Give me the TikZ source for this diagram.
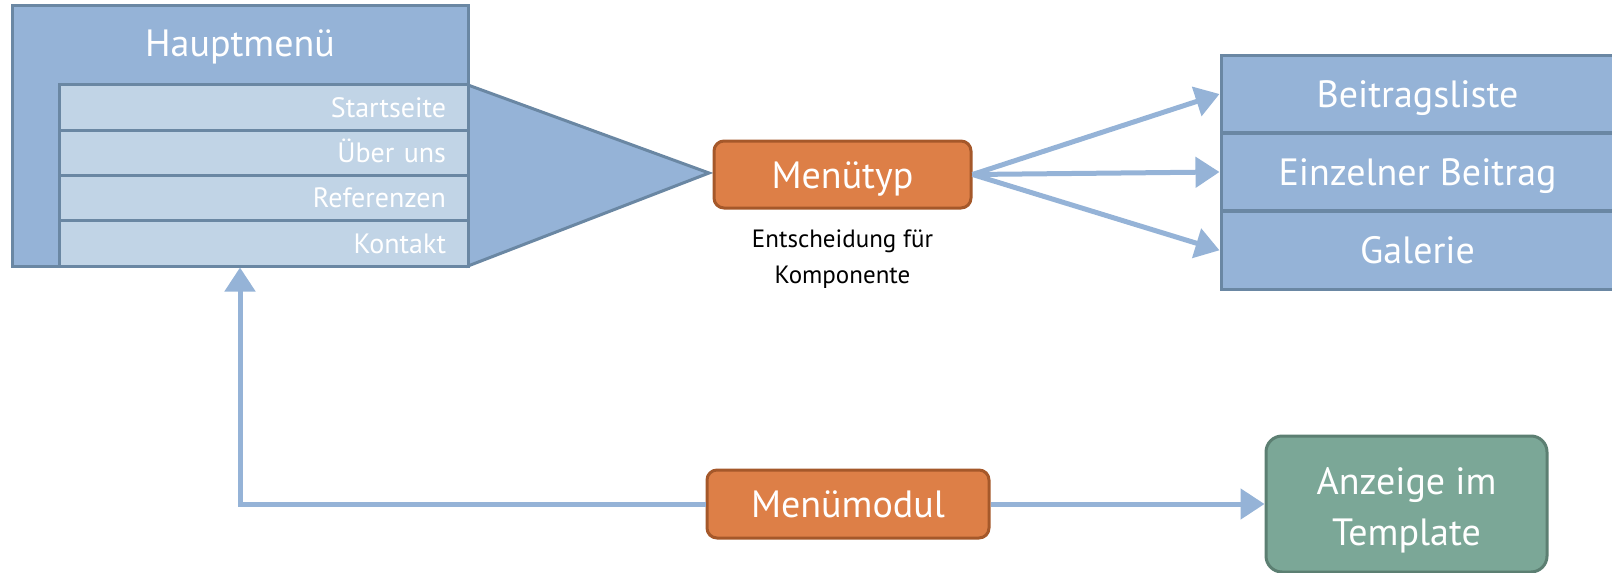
\documentclass[tikz,border=0pt]{standalone}
\usepackage{fontspec}
\setmainfont{PT Sans}
\usetikzlibrary{arrows.meta}
\definecolor{bfill}{HTML}{95B3D7}
\definecolor{bdraw}{HTML}{6A87A3}
\definecolor{lfill}{HTML}{C1D4E6}
\definecolor{ofill}{HTML}{DD7F47}
\definecolor{odraw}{HTML}{A5582A}
\definecolor{gfill}{HTML}{7BA797}
\definecolor{gdraw}{HTML}{5C7F72}
\definecolor{acol}{HTML}{95B3D7}
\tikzset{
  big/.style={font=\fontsize{38}{46}\selectfont, text height=27pt, text depth=0pt},
  small/.style={font=\fontsize{28}{32}\selectfont, text height=19.6pt, text depth=0pt},
  bluebox/.style={draw=bdraw, fill=bfill, line width=3pt, inner sep=0pt},
  rowbox/.style={draw=bdraw, fill=lfill, line width=3pt, inner xsep=22pt, inner ysep=0pt,
    text width=365pt, align=right, minimum height=45.25pt, text=white, small},
  rightbox/.style={draw=bdraw, fill=bfill, line width=3pt, minimum width=393pt, minimum height=77.5pt,
    inner sep=0pt, text=white, big},
  orangebox/.style={draw=odraw, fill=ofill, line width=3pt, rounded corners=10pt, inner sep=0pt, text=white, big},
  greenbox/.style={draw=gdraw, fill=gfill, line width=3pt, rounded corners=16pt, inner sep=0pt, text=white, align=center},
  conn/.style={draw=acol, line width=5pt, -{Triangle[length=24pt,width=30pt]}},
}
\begin{document}
\begin{tikzpicture}[x=1pt,y=-1pt]
\useasboundingbox (0,0) rectangle (1612,573);
% Hauptmenü container
\node[bluebox, minimum width=456pt, minimum height=261pt] (haupt) at (240,135.5) {};
\node[text=white, big] (hauptlabel) at (240,42.5) {Hauptmenü};
\draw[draw=bdraw, fill=bfill, line width=3pt, line join=miter] (468,85) -- (709,173) -- (468,266) -- cycle;
\node[rowbox, minimum width=409pt] (r1) at (263.5,107.6) {Startseite};
\node[rowbox, minimum width=409pt] (r2) at (263.5,152.9) {Über uns};
\node[rowbox, minimum width=409pt] (r3) at (263.5,198.1) {Referenzen};
\node[rowbox, minimum width=409pt] (r4) at (263.5,243.4) {Kontakt};
% Menütyp
\node[orangebox, minimum width=257pt, minimum height=67pt] (typ) at (842.5,174.5) {Menütyp};
\node[text=black, align=center, font=\fontsize{25}{36}\selectfont, text height=17.5pt, text depth=0pt] (entsch) at (842.5,275) {Entscheidung für\\Komponente};
% right boxes
\node[rightbox] (b1) at (1417.5,94) {Beitragsliste};
\node[rightbox] (b2) at (1417.5,172) {Einzelner Beitrag};
\node[rightbox] (b3) at (1417.5,250.3) {Galerie};
\draw[conn] (typ.east) -- (b1.west);
\draw[conn] (typ.east) -- (b2.west);
\draw[conn] (typ.east) -- (b3.west);
% Menümodul
\node[orangebox, minimum width=282pt, minimum height=68pt] (modul) at (848,504) {Menümodul};
\node[greenbox, minimum width=281pt, minimum height=136pt, font=\fontsize{38}{51.5}\selectfont, text height=83.6pt, text depth=0pt] (anzeige) at (1406.5,504) {Anzeige im\\Template};
\coordinate (corner) at (240,504);
\draw[conn] (modul.west) -- (corner) -- (haupt.south -| corner);
\draw[conn] (modul.east) -- (anzeige.west);
\end{tikzpicture}
\end{document}
